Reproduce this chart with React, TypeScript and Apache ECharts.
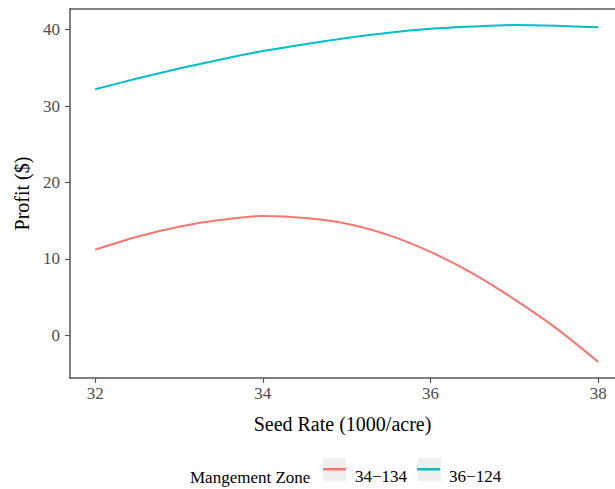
import React, { useEffect, useRef } from "react";
import * as echarts from "echarts";

const seedRates = [32, 32.5, 33, 33.5, 34, 34.5, 35, 35.5, 36, 36.5, 37, 37.5, 38];
const zoneA = [11.2, 12.9, 14.2, 15.1, 15.6, 15.35, 14.6, 13.1, 10.9, 8.1, 4.7, 0.9, -3.5];
const zoneB = [32.2, 33.6, 34.9, 36.1, 37.2, 38.1, 38.9, 39.6, 40.1, 40.4, 40.6, 40.5, 40.3];
const seriesNames = ["34\u2212134", "36\u2212124"];
const xTicks = [32, 34, 36, 38];
const yTicks = [0, 10, 20, 30, 40];

const FONT = "Liberation Serif";
const AXIS = "#555555";

export default function App() {
  const ref = useRef<HTMLDivElement>(null);
  useEffect(() => {
    if (!ref.current) return;
    const chart = echarts.init(ref.current, undefined, { renderer: "svg" });
    const pairs = (ys: number[]) => seedRates.map((x, i) => [x, ys[i]]);
    chart.setOption({
      animation: false,
      grid: { left: 70, right: 0, top: 9, bottom: 111 },
      title: {
        text: "Mangement Zone",
        left: 190,
        top: 469,
        padding: 0,
        textStyle: { fontFamily: FONT, fontSize: 17, fontWeight: "normal", color: "#000" },
      },
      legend: {
        left: 323,
        top: 468,
        padding: 0,
        itemWidth: 23,
        itemHeight: 17,
        itemGap: 10,
        icon: "path://M0,0H23V2.5H0Z M0,17H0.01V17.01H0Z",
        data: seriesNames,
        textStyle: { fontFamily: FONT, fontSize: 17, color: "#000", padding: [0, 0, 0, 4] },
      },
      graphic: [
        { type: "rect", z: -1, shape: { x: 323, y: 458, width: 23, height: 23 }, style: { fill: "#efefef" } },
        { type: "rect", z: -1, shape: { x: 418, y: 458, width: 23, height: 23 }, style: { fill: "#efefef" } },
      ],
      xAxis: [
        {
          type: "value",
          min: 31.7,
          max: 38.2,
          position: "bottom",
          name: "Seed Rate (1000/acre)",
          nameLocation: "middle",
          nameGap: 36,
          nameTextStyle: { fontFamily: FONT, fontSize: 20, color: "#000" },
          axisLine: { show: true, onZero: false, lineStyle: { color: AXIS, width: 1.5 } },
          axisTick: { show: true, length: 5, lineStyle: { color: AXIS, width: 1.2 }, customValues: xTicks },
          axisLabel: { fontFamily: FONT, fontSize: 17, color: "#4d4d4d", margin: 7, customValues: xTicks },
          splitLine: { show: false },
        },
        {
          type: "value",
          min: 31.7,
          max: 38.2,
          position: "top",
          axisLine: { show: true, onZero: false, lineStyle: { color: AXIS, width: 1.5 } },
          axisTick: { show: false },
          axisLabel: { show: false },
          splitLine: { show: false },
        },
      ],
      yAxis: {
        type: "value",
        min: -5.6,
        max: 42.7,
        name: "Profit ($)",
        nameLocation: "middle",
        nameGap: 34,
        nameTextStyle: { fontFamily: FONT, fontSize: 20, color: "#000" },
        axisLine: { show: true, onZero: false, lineStyle: { color: AXIS, width: 1.5 } },
        axisTick: { show: true, length: 5, lineStyle: { color: AXIS, width: 1.2 }, customValues: yTicks },
        axisLabel: { fontFamily: FONT, fontSize: 17, color: "#4d4d4d", margin: 10, customValues: yTicks },
        splitLine: { show: false },
      },
      series: [
        {
          name: seriesNames[0],
          type: "line",
          data: pairs(zoneA),
          smooth: 0.3,
          showSymbol: false,
          color: "#F8766D",
          lineStyle: { width: 2 },
        },
        {
          name: seriesNames[1],
          type: "line",
          data: pairs(zoneB),
          smooth: 0.3,
          showSymbol: false,
          color: "#00BFC4",
          lineStyle: { width: 2 },
        },
      ],
    });
    return () => chart.dispose();
  }, []);
  return <div ref={ref} style={{ width: 615, height: 489, position: "absolute", left: 0, top: 0 }} />;
}
